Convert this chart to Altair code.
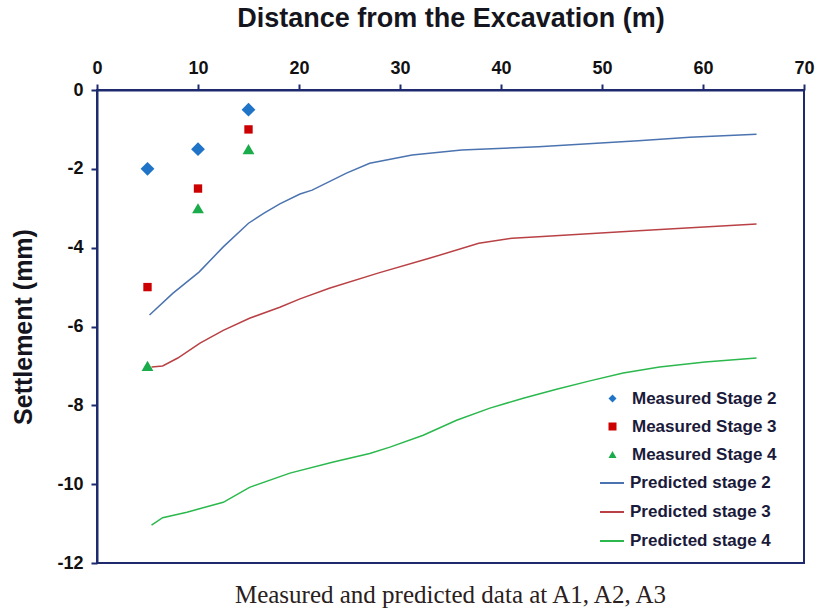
import altair as alt
import pandas as pd

# ---- data ----
meas_x = [5, 10, 15]
meas_stage2 = [-2.0, -1.5, -0.5]
meas_stage3 = [-5.0, -2.5, -1.0]
meas_stage4 = [-7.0, -3.0, -1.5]

pred2_x = [5.2, 7.5, 10.1, 12.5, 15.0, 16.5, 18.1, 20.1, 21.3, 24.7, 27.0, 31.2, 36.1, 43.7, 53.6, 58.7, 65.3]
pred2_y = [-5.71, -5.16, -4.62, -3.98, -3.38, -3.13, -2.89, -2.64, -2.54, -2.11, -1.86, -1.65, -1.52, -1.44, -1.29, -1.2, -1.12]

pred3_x = [5.4, 6.5, 8.0, 10.2, 12.5, 15.1, 18.1, 20.1, 23.0, 27.9, 32.9, 37.8, 41.1, 43.7, 53.6, 65.3]
pred3_y = [-7.03, -7.0, -6.8, -6.42, -6.1, -5.79, -5.51, -5.3, -5.03, -4.64, -4.27, -3.89, -3.76, -3.72, -3.57, -3.40]

pred4_x = [5.4, 6.5, 8.9, 12.5, 15.1, 19.1, 23.4, 27.0, 29.0, 32.3, 35.6, 38.9, 42.2, 45.5, 48.8, 52.1, 55.7, 60.2, 65.3]
pred4_y = [-11.04, -10.85, -10.71, -10.46, -10.08, -9.72, -9.44, -9.22, -9.06, -8.76, -8.38, -8.07, -7.82, -7.59, -7.38, -7.18, -7.03, -6.9, -6.80]

meas_names = ["Measured Stage 2", "Measured Stage 3", "Measured Stage 4"]
pred_names = ["Predicted stage 2", "Predicted stage 3", "Predicted stage 4"]
meas_colors = ["#1f74c8", "#cc0000", "#1aab4a"]
meas_shapes = ["diamond", "square", "triangle-up"]
meas_sizes = [190, 70, 140]
pred_colors = ["#4b73b0", "#b94145", "#2bb84d"]

NAVY = "#1f2a6e"

# ---- tables ----
mrows = []
for name, ys in zip(meas_names, [meas_stage2, meas_stage3, meas_stage4]):
    for x, y in zip(meas_x, ys):
        mrows.append({"x": x, "y": y, "series": name})
mdf = pd.DataFrame(mrows)

prows = []
for name, xs, ys in zip(pred_names, [pred2_x, pred3_x, pred4_x], [pred2_y, pred3_y, pred4_y]):
    for i, (x, y) in enumerate(zip(xs, ys)):
        prows.append({"x": x, "y": y, "series": name, "i": i})
pdf = pd.DataFrame(prows)

xscale = alt.Scale(domain=[0, 70], nice=False, zero=False)
yscale = alt.Scale(domain=[-12, 0], nice=False, zero=False)

xaxis = alt.Axis(
    orient="top", values=list(range(0, 71, 10)), title="Distance from the Excavation (m)",
    titleY=-72, titleBaseline="middle",
)
yaxis = alt.Axis(
    values=list(range(-12, 1, 2)), title="Settlement (mm)",
    titleX=-74, titleBaseline="middle",
    labelExpr="datum.value < 0 ? '-' + abs(datum.value) : '' + datum.value",
)

meas_legend = alt.Legend(
    title=None, orient="none", legendX=507, legendY=300,
    symbolSize=64, labelOffset=11, rowPadding=10, padding=0,
)

lines = alt.Chart(pdf).mark_line(strokeWidth=1.5).encode(
    x=alt.X("x:Q", scale=xscale, axis=xaxis),
    y=alt.Y("y:Q", scale=yscale, axis=yaxis),
    stroke=alt.Stroke(
        "series:N",
        scale=alt.Scale(domain=pred_names, range=pred_colors),
        legend=alt.Legend(
            title=None, orient="none", legendX=502, legendY=380,
            symbolType="stroke", symbolSize=576, symbolStrokeWidth=2,
            labelOffset=5, rowPadding=8, padding=0,
        ),
    ),
    order="i:Q",
)

point_layers = []
for name, sz in zip(meas_names, meas_sizes):
    point_layers.append(
        alt.Chart(mdf)
        .transform_filter(alt.datum.series == name)
        .mark_point(filled=True, opacity=1, size=sz)
        .encode(
            x=alt.X("x:Q", scale=xscale),
            y=alt.Y("y:Q", scale=yscale),
            color=alt.Color(
                "series:N",
                scale=alt.Scale(domain=meas_names, range=meas_colors),
                legend=meas_legend,
            ),
            shape=alt.Shape(
                "series:N",
                scale=alt.Scale(domain=meas_names, range=meas_shapes),
                legend=meas_legend,
            ),
        )
    )

chart = (
    alt.layer(lines, *point_layers)
    .properties(
        width=707,
        height=473,
        autosize=alt.AutoSizeParams(type="none"),
        padding={"left": 97, "top": 90, "right": 17, "bottom": 47},
        title=alt.TitleParams(
            "Measured and predicted data at A1, A2, A3",
            orient="bottom", anchor="middle", font="Liberation Serif",
            fontSize=25, fontWeight="normal", color="#2a2020",
            baseline="middle", offset=23,
        ),
    )
    .configure_view(stroke=NAVY, strokeWidth=2)
    .configure_axis(
        grid=False,
        domainColor=NAVY, domainWidth=2,
        tickColor=NAVY, tickWidth=2, tickSize=6,
        labelFont="Liberation Sans", labelFontWeight="bold", labelFontSize=18,
        labelColor="#111111",
        titleFont="Liberation Sans", titleFontWeight="bold", titleColor="#151520",
    )
    .configure_axisX(labelPadding=7, titleFontSize=27, labelFlush=False)
    .configure_axisY(labelPadding=8, titleFontSize=25)
    .configure_legend(
        labelFont="Liberation Sans", labelFontWeight="bold", labelFontSize=17,
        labelColor="#1a1a3a", labelLimit=300,
    )
)

chart.save("out.html", embed_options={"renderer": "svg", "actions": False})
